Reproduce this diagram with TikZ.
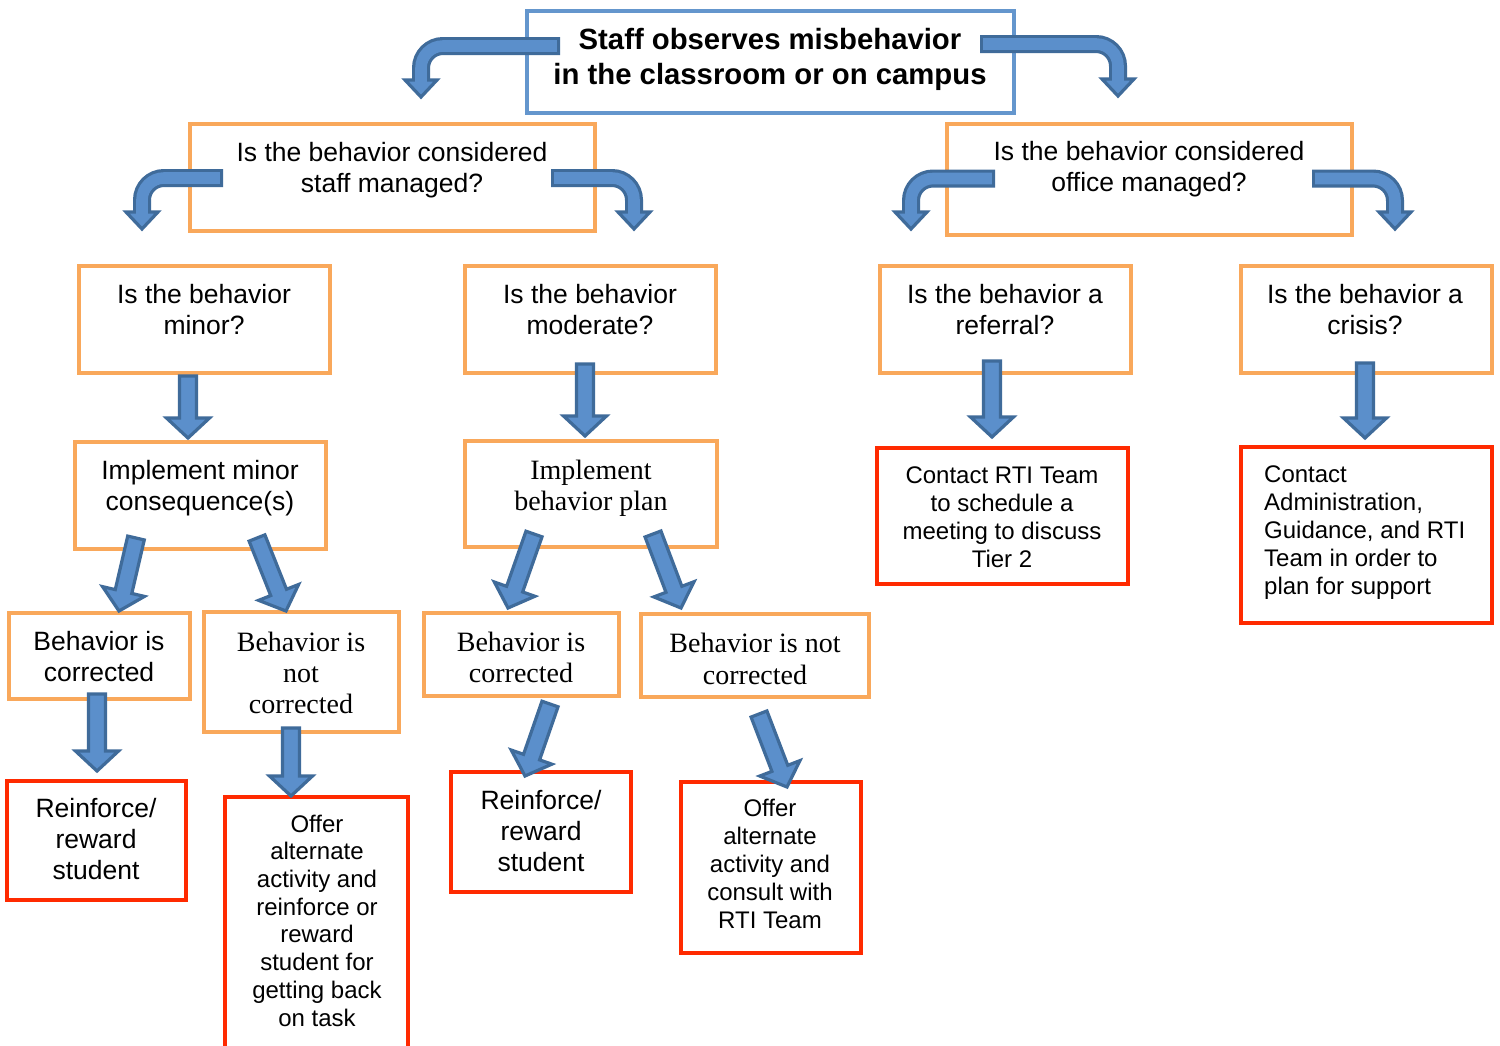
\documentclass[tikz,border=0pt]{standalone}
\usepackage{fontspec}
\setmainfont{Liberation Sans}
\newfontfamily\sansf{Liberation Sans}
\newfontfamily\seriff{Liberation Serif}
\usetikzlibrary{calc}
\definecolor{arrfill}{HTML}{5B8FCB}
\definecolor{arrdark}{HTML}{3F6B9A}
\definecolor{orng}{HTML}{F9A85B}
\definecolor{redb}{HTML}{FF2A00}
\definecolor{blueb}{HTML}{6496CD}
\tikzset{
  obox/.style={draw=orng, line width=4pt, inner sep=0pt},
  rbox/.style={draw=redb, line width=4.5pt, inner sep=0pt},
  bbox/.style={draw=blueb, line width=3.5pt, inner sep=0pt},
  stxt/.style={inner sep=0pt, align=center, font=\sansf\fontsize{26.5}{31}\selectfont},
  smtxt/.style={inner sep=0pt, align=center, font=\sansf\fontsize{24}{28}\selectfont},
  sertxt/.style={inner sep=0pt, align=center, font=\seriff\fontsize{28}{31}\selectfont},
  arrpoly/.style={fill=arrfill, draw=arrdark, line width=3.2pt, line join=miter},
}
\newcommand\blockarrow[2]{%
  \coordinate (tmpH) at ($(#2)!20pt!(#1)$);
  \draw[arrpoly] ($(#1)!8.5pt!90:(#2)$) -- ($(tmpH)!8.5pt!90:(#2)$) -- ($(tmpH)!21.5pt!90:(#2)$) -- (#2)
    -- ($(tmpH)!21.5pt!-90:(#2)$) -- ($(tmpH)!8.5pt!-90:(#2)$) -- ($(#1)!8.5pt!-90:(#2)$) -- cycle;}
% #1 start, #2 corner, #3 head top, #4 tip
\newcommand\bentarrow[4]{%
  \draw[draw=arrdark, line width=18pt, rounded corners=22pt] (#1) -- (#2) -- (#3);
  \draw[arrpoly] ($(#3)+(-16,0)$) -- ($(#3)+(16,0)$) -- (#4) -- cycle;
  \draw[draw=arrfill, line width=11.6pt, rounded corners=22pt] ($(#1)!3.2pt!(#2)$) -- (#2) -- ($(#3)+(0,3)$);}
\begin{document}
\begin{tikzpicture}[x=1pt,y=-1pt]
\useasboundingbox (0,0) rectangle (1500,1045);
\fill[white] (0,0) rectangle (1500,1045);
% boxes
\node[bbox, minimum width=487pt, minimum height=102pt] (top) at (770.5,62) {};
\node[obox, minimum width=405pt, minimum height=107pt] (staff) at (392.5,177.5) {};
\node[obox, minimum width=405pt, minimum height=111pt] (office) at (1149.5,179.5) {};
\node[obox, minimum width=251pt, minimum height=107pt] (minor) at (204.5,319.5) {};
\node[obox, minimum width=251pt, minimum height=107pt] (moderate) at (590.5,319.5) {};
\node[obox, minimum width=251pt, minimum height=107pt] (referral) at (1005.5,319.5) {};
\node[obox, minimum width=251pt, minimum height=107pt] (crisis) at (1366.5,319.5) {};
\node[obox, minimum width=251pt, minimum height=107pt] (implminor) at (200.5,495.5) {};
\node[obox, minimum width=252pt, minimum height=106pt] (implplan) at (591,494) {};
\node[rbox, minimum width=251pt, minimum height=136pt] (rti) at (1002.5,516) {};
\node[rbox, minimum width=251pt, minimum height=176pt] (admin) at (1366.5,535) {};
\node[obox, minimum width=181pt, minimum height=86pt] (corr1) at (99.5,656) {};
\node[obox, minimum width=195pt, minimum height=120pt] (notcorr1) at (301.5,672) {};
\node[obox, minimum width=195pt, minimum height=83pt] (corr2) at (521.5,654.5) {};
\node[obox, minimum width=228pt, minimum height=83pt] (notcorr2) at (755,655.5) {};
\node[rbox, minimum width=179pt, minimum height=119pt] (reinf1) at (96.5,840.5) {};
\node[rbox, minimum width=183pt, minimum height=280pt] (offer1) at (316.5,937) {};
\node[rbox, minimum width=180pt, minimum height=120pt] (reinf2) at (541,832) {};
\node[rbox, minimum width=180pt, minimum height=171pt] (offer2) at (771,867.5) {};
% texts
\node[inner sep=0pt, align=center, font=\sansf\bfseries\fontsize{29.3}{35}\selectfont] (ttop) at (770,59) {Staff observes misbehavior\\in the classroom or on campus};
\node[stxt] (tstaff) at (392,170) {Is the behavior considered\\staff managed?};
\node[stxt] (toffice) at (1149,169.5) {Is the behavior considered\\office managed?};
\node[stxt] (tminor) at (204,310) {Is the behavior\\minor?};
\node[stxt] (tmoderate) at (590,310) {Is the behavior\\moderate?};
\node[stxt] (treferral) at (1005,310) {Is the behavior a\\referral?};
\node[stxt] (tcrisis) at (1365,310) {Is the behavior a\\crisis?};
\node[stxt] (timplminor) at (200,488) {Implement minor\\consequence(s)};
\node[sertxt] (timplplan) at (591,488.5) {Implement\\behavior plan};
\node[smtxt] (trti) at (1002,517.5) {Contact RTI Team\\to schedule a\\meeting to discuss\\Tier 2};
\node[smtxt, align=left, anchor=west] (tadmin) at (1264,533) {Contact\\Administration,\\Guidance, and RTI\\Team in order to\\plan for support};
\node[stxt] (tcorr1) at (99,657) {Behavior is\\corrected};
\node[sertxt] (tnotcorr1) at (301,673) {Behavior is\\not\\corrected};
\node[sertxt] (tcorr2) at (521,657.5) {Behavior is\\corrected};
\node[sertxt, font=\seriff\fontsize{28}{32}\selectfont] (tnotcorr2) at (755,659) {Behavior is not\\corrected};
\node[stxt] (treinf1) at (96,839.5) {Reinforce/\\reward\\student};
\node[smtxt, font=\sansf\fontsize{24}{27.7}\selectfont] (toffer1) at (317,920.5) {Offer\\alternate\\activity and\\reinforce or\\reward\\student for\\getting back\\on task};
\node[stxt] (treinf2) at (541,831.5) {Reinforce/\\reward\\student};
\node[smtxt] (toffer2) at (770,864) {Offer\\alternate\\activity and\\consult with\\RTI Team};
% arrow end points
\coordinate (b1s) at (560,46); \coordinate (b1c) at (421,46); \coordinate (b1h) at (421,80); \coordinate (b1t) at (421,97);
\coordinate (b2s) at (980,44); \coordinate (b2c) at (1118,44); \coordinate (b2h) at (1118,79); \coordinate (b2t) at (1118,96);
\coordinate (b3s) at (223,178); \coordinate (b3c) at (142,178); \coordinate (b3h) at (142,212); \coordinate (b3t) at (142,229);
\coordinate (b4s) at (551,178); \coordinate (b4c) at (634,178); \coordinate (b4h) at (634,212); \coordinate (b4t) at (634,229);
\coordinate (b5s) at (995,178.5); \coordinate (b5c) at (911,178.5); \coordinate (b5h) at (911,212); \coordinate (b5t) at (911,229);
\coordinate (b6s) at (1312,178.5); \coordinate (b6c) at (1395,178.5); \coordinate (b6h) at (1395,212); \coordinate (b6t) at (1395,229);
\bentarrow{b1s}{b1c}{b1h}{b1t}
\bentarrow{b2s}{b2c}{b2h}{b2t}
\bentarrow{b3s}{b3c}{b3h}{b3t}
\bentarrow{b4s}{b4c}{b4h}{b4t}
\bentarrow{b5s}{b5c}{b5h}{b5t}
\bentarrow{b6s}{b6c}{b6h}{b6t}
\coordinate (s1a) at (188,376); \coordinate (s1b) at (188,438);
\coordinate (s2a) at (585,364); \coordinate (s2b) at (585,436);
\coordinate (s3a) at (992,361); \coordinate (s3b) at (992,437);
\coordinate (s4a) at (1365,363); \coordinate (s4b) at (1365,438);
\coordinate (s5a) at (136,538); \coordinate (s5b) at (119,611);
\coordinate (s6a) at (257,538); \coordinate (s6b) at (286,611);
\coordinate (s7a) at (534,534); \coordinate (s7b) at (508,608);
\coordinate (s8a) at (653,534); \coordinate (s8b) at (681,608);
\coordinate (s9a) at (97,694); \coordinate (s9b) at (97,771);
\coordinate (s10a) at (291,728); \coordinate (s10b) at (291,796);
\coordinate (s11a) at (550,704); \coordinate (s11b) at (525,776);
\coordinate (s12a) at (759,714); \coordinate (s12b) at (787,787);
\blockarrow{s1a}{s1b}
\blockarrow{s2a}{s2b}
\blockarrow{s3a}{s3b}
\blockarrow{s4a}{s4b}
\blockarrow{s5a}{s5b}
\blockarrow{s6a}{s6b}
\blockarrow{s7a}{s7b}
\blockarrow{s8a}{s8b}
\blockarrow{s9a}{s9b}
\blockarrow{s10a}{s10b}
\blockarrow{s11a}{s11b}
\blockarrow{s12a}{s12b}
\end{tikzpicture}
\end{document}
